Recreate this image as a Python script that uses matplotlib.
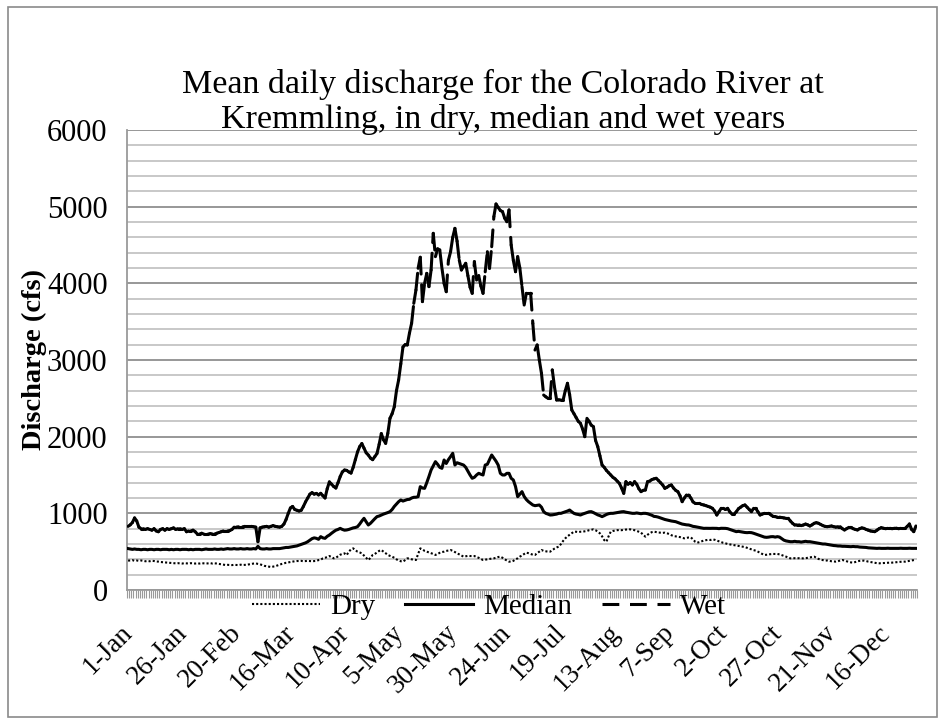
import numpy as np
import matplotlib
matplotlib.use("Agg")
import matplotlib.pyplot as plt
from matplotlib.collections import LineCollection
from matplotlib.lines import Line2D
from matplotlib.patches import Rectangle
from matplotlib.transforms import ScaledTranslation

plt.rcParams['font.family'] = ['Liberation Serif', 'DejaVu Serif']

title = "Mean daily discharge for the Colorado River at\nKremmling, in dry, median and wet years"
y_label = "Discharge (cfs)"
series_names = ["Dry", "Median", "Wet"]
tick_labels = ['1-Jan', '26-Jan', '20-Feb', '16-Mar', '10-Apr', '5-May', '30-May',
               '24-Jun', '19-Jul', '13-Aug', '7-Sep', '2-Oct', '27-Oct', '21-Nov', '16-Dec']

wet = [
    830, 850, 880, 940, 900, 820, 800, 800, 790, 800,
    790, 780, 800, 770, 760, 790, 800, 780, 800, 790,
    800, 810, 790, 800, 800, 790, 800, 760, 770, 770,
    780, 760, 730, 730, 740, 730, 730, 730, 735, 730,
    730, 740, 750, 760, 770, 770, 770, 775, 790, 820,
    820, 825, 825, 825, 830, 830, 830, 830, 825, 820,
    630, 810, 820, 825, 830, 820, 830, 840, 830, 825,
    820, 830, 860, 920, 1000, 1070, 1090, 1050, 1040, 1030,
    1040, 1090, 1150, 1200, 1250, 1270, 1250, 1260, 1240, 1261,
    1230, 1200, 1320, 1410, 1380, 1350, 1330, 1400, 1480, 1540,
    1565, 1560, 1540, 1525, 1600, 1700, 1800, 1870, 1910, 1850,
    1790, 1760, 1720, 1700, 1740, 1780, 1900, 2040, 1960, 1913,
    2043, 2240, 2300, 2390, 2600, 2740, 2950, 3170, 3200, 3196,
    3350, 3480, 3739, 3913, 4196, 4340, 3761, 4000, 4130, 3957,
    4174, 4652, 4348, 4450, 4435, 4200, 4000, 3891, 4300, 4413,
    4600, 4717, 4550, 4304, 4174, 4220, 4261, 4100, 3950, 3870,
    4283, 4043, 4100, 3965, 3870, 4150, 4413, 4196, 4478, 4870,
    5035, 4990, 4950, 4935, 4850, 4804, 4957, 4500, 4300, 4152,
    4348, 4200, 3957, 3717, 3870, 3870, 3870, 3478, 3130, 3196,
    3000, 2826, 2543, 2520, 2500, 2500, 2870, 2650, 2478, 2480,
    2478, 2478, 2600, 2696, 2550, 2348, 2300, 2250, 2200, 2174,
    2100, 2000, 2239, 2200, 2150, 2130, 1950, 1870, 1750, 1630,
    1600, 1560, 1530, 1500, 1470, 1450, 1420, 1391, 1330, 1261,
    1413, 1380, 1400, 1370, 1413, 1380, 1320, 1283, 1300, 1304,
    1413, 1420, 1440, 1450, 1457, 1430, 1400, 1370, 1326, 1340,
    1360, 1370, 1330, 1300, 1283, 1230, 1152, 1200, 1239, 1239,
    1200, 1150, 1130, 1130, 1130, 1115, 1109, 1100, 1090, 1080,
    1065, 1030, 978, 1020, 1065, 1065, 1050, 1065, 1020, 991,
    991, 1020, 1060, 1080, 1100, 1109, 1080, 1050, 1022, 1065,
    1065, 1020, 978, 990, 1000, 1000, 1000, 980, 960, 957,
    950, 950, 945, 940, 935, 935, 900, 870, 848, 850,
    850, 840, 848, 860, 850, 835, 850, 870, 878, 870,
    855, 840, 830, 826, 830, 835, 826, 820, 826, 826,
    800, 783, 800, 817, 817, 800, 790, 783, 800, 810,
    804, 790, 780, 770, 765, 761, 780, 800, 813, 805,
    800, 804, 804, 800, 804, 805, 800, 804, 804, 804,
    830, 861, 790, 761, 835,
]

median = [
    540, 535, 530, 535, 530, 530, 525, 530, 530, 525,
    530, 530, 525, 530, 530, 525, 530, 530, 530, 525,
    530, 525, 530, 530, 525, 530, 530, 530, 525, 530,
    525, 530, 530, 530, 525, 530, 535, 530, 530, 530,
    535, 530, 530, 535, 530, 535, 540, 535, 535, 540,
    535, 535, 540, 535, 535, 540, 535, 535, 540, 535,
    570, 540, 535, 535, 540, 535, 535, 540, 540, 540,
    540, 545, 550, 555, 555, 560, 565, 570, 575, 585,
    595, 605, 615, 630, 650, 670, 680, 674, 661, 696,
    680, 674, 700, 717, 740, 761, 780, 790, 804, 790,
    780, 783, 790, 800, 810, 815, 826, 860, 900, 935,
    890, 848, 870, 900, 930, 957, 965, 978, 990, 1000,
    1010, 1022, 1050, 1090, 1120, 1152, 1174, 1160, 1170, 1180,
    1183, 1200, 1209, 1210, 1217, 1348, 1330, 1326, 1400, 1480,
    1565, 1620, 1674, 1640, 1600, 1587, 1696, 1650, 1700, 1740,
    1783, 1630, 1660, 1650, 1640, 1630, 1600, 1550, 1500, 1457,
    1470, 1500, 1522, 1510, 1500, 1630, 1640, 1700, 1761, 1720,
    1680, 1630, 1522, 1500, 1500, 1522, 1522, 1457, 1435, 1350,
    1217, 1250, 1283, 1220, 1180, 1152, 1130, 1109, 1100, 1105,
    1109, 1080, 1022, 1000, 990, 978, 980, 985, 990, 1000,
    1000, 1010, 1020, 1030, 1043, 1020, 1000, 990, 985, 978,
    990, 1000, 1010, 1020, 1022, 1010, 995, 980, 970, 957,
    970, 985, 995, 1000, 1000, 1005, 1010, 1015, 1020, 1022,
    1015, 1010, 1005, 1000, 1000, 1005, 1000, 995, 1000, 1000,
    995, 985, 975, 960, 957, 950, 940, 930, 920, 913,
    905, 900, 895, 891, 880, 870, 860, 855, 850, 848,
    840, 830, 826, 820, 815, 810, 804, 805, 804, 804,
    805, 804, 804, 800, 805, 804, 804, 800, 790, 780,
    770, 761, 765, 760, 755, 750, 748, 750, 748, 740,
    730, 720, 710, 700, 690, 687, 690, 695, 696, 690,
    696, 690, 670, 650, 640, 635, 630, 630, 635, 630,
    630, 625, 630, 635, 630, 630, 625, 620, 615, 610,
    605, 600, 600, 595, 590, 585, 580, 578, 574, 574,
    570, 570, 568, 565, 565, 568, 565, 565, 560, 558,
    555, 555, 550, 548, 545, 543, 543, 545, 543, 543,
    543, 545, 543, 543, 543, 543, 543, 545, 543, 543,
    543, 545, 543, 543, 543,
]

dry = [
    383, 385, 390, 380, 385, 380, 385, 380, 375, 378,
    375, 380, 378, 372, 370, 365, 362, 360, 358, 355,
    352, 350, 348, 350, 348, 345, 350, 348, 345, 350,
    348, 345, 348, 345, 350, 348, 345, 348, 350, 345,
    348, 345, 340, 335, 330, 326, 328, 326, 325, 328,
    326, 325, 330, 326, 328, 330, 335, 340, 345, 348,
    340, 335, 325, 315, 310, 304, 300, 305, 310, 320,
    330, 340, 348, 355, 360, 365, 370, 375, 378, 378,
    380, 375, 378, 380, 378, 375, 378, 380, 390, 395,
    413, 420, 430, 443, 430, 413, 420, 440, 460, 470,
    478, 456, 500, 530, 543, 520, 500, 490, 478, 450,
    420, 391, 420, 457, 470, 490, 510, 522, 500, 480,
    457, 445, 435, 420, 400, 385, 375, 370, 390, 413,
    410, 400, 395, 391, 470, 543, 530, 510, 500, 490,
    480, 470, 457, 470, 485, 495, 500, 510, 515, 522,
    510, 495, 478, 465, 450, 435, 440, 445, 443, 443,
    443, 430, 420, 405, 391, 395, 400, 405, 410, 413,
    420, 430, 435, 420, 400, 385, 370, 370, 380, 400,
    413, 435, 450, 470, 487, 480, 470, 460, 457, 480,
    500, 522, 510, 505, 500, 500, 520, 540, 555, 565,
    600, 640, 674, 700, 720, 740, 761, 760, 755, 760,
    761, 765, 770, 780, 785, 791, 780, 760, 739, 700,
    650, 630, 700, 761, 770, 775, 780, 783, 780, 785,
    788, 791, 791, 785, 780, 770, 760, 748, 720, 696,
    720, 740, 755, 761, 755, 750, 748, 745, 748, 740,
    730, 715, 704, 700, 695, 690, 680, 674, 680, 685,
    687, 660, 630, 617, 625, 635, 645, 650, 655, 652,
    661, 655, 645, 635, 625, 615, 609, 600, 595, 590,
    585, 580, 575, 570, 565, 560, 550, 540, 530, 520,
    513, 500, 485, 470, 457, 460, 465, 468, 470, 470,
    470, 465, 455, 445, 435, 420, 413, 413, 415, 413,
    415, 413, 413, 415, 420, 425, 430, 435, 420, 405,
    395, 390, 383, 385, 380, 375, 372, 370, 375, 385,
    391, 385, 375, 365, 360, 357, 365, 375, 380, 383,
    383, 378, 370, 365, 360, 355, 350, 348, 350, 352,
    355, 357, 357, 357, 360, 362, 365, 368, 370, 370,
    375, 380, 385, 391, 395,
]

W, H = 946, 724
fig = plt.figure(figsize=(W / 100, H / 100), dpi=100)
ax = fig.add_axes([127 / W, 1 - 590 / H, 790 / W, 460 / H])

days = np.arange(len(wet))
wet_a = np.array(wet, dtype=float)
ax.set_xlim(-0.5, len(wet) - 0.5)
ax.set_ylim(0, 6000)

# gridlines
ax.set_yticks(np.arange(0, 6001, 1000))
ax.set_yticks(np.arange(0, 6001, 200), minor=True)
ax.grid(which='minor', axis='y', color='#c4c4c4', lw=1.3, zorder=0)
ax.grid(which='major', axis='y', color='#8f8f8f', lw=1.3, zorder=0)
ax.set_axisbelow(True)
ax.tick_params(axis='y', which='both', length=0, pad=14, labelsize=22)

for s in ['top', 'right']:
    ax.spines[s].set_visible(False)
ax.spines['left'].set_color('#9a9a9a')
ax.spines['left'].set_linewidth(1.3)
ax.spines['bottom'].set_color('#9a9a9a')
ax.spines['bottom'].set_linewidth(1.3)

# x axis: one tick per category, labels every 25 days
label_pos = np.arange(0, len(wet), 25)
ax.set_xticks(label_pos)
ax.set_xticklabels([])
ax.set_xticks(np.arange(-0.5, len(wet), 1), minor=True)
ax.tick_params(axis='x', which='major', length=0)
ax.tick_params(axis='x', which='minor', length=5.5, width=0.8, color='#9a9a9a')
lab_tr = ax.get_xaxis_transform() + ScaledTranslation(-8 / 100, -30 / 100, fig.dpi_scale_trans)
for d, lab in zip(label_pos, tick_labels):
    ax.text(d, 0, lab, transform=lab_tr, rotation=45, ha='right', va='top',
            rotation_mode='anchor', fontsize=19.5, clip_on=False)

# series
ax.plot(days, dry, color='black', lw=1.5, linestyle=(0, (1, 1)), zorder=3)
ax.plot(days, median, color='black', lw=2.2, solid_joinstyle='round', zorder=3)
pts = np.column_stack([days, wet_a])
segs = np.stack([pts[:-1], pts[1:]], axis=1)
lc = LineCollection(segs, colors='black', linewidths=2.2,
                    linestyles=[(0, (5.5, 3.5))], capstyle='round', zorder=3)
ax.add_collection(lc)

ax.set_ylabel(y_label, fontweight='bold', fontsize=20.5)
ax.yaxis.set_label_coords((47 - 127) / 790, 0.5)

fig.text(503 / W, 1 - 102 / H, title, ha='center', va='center',
         fontsize=24.5, linespacing=1.2)

handles = [Line2D([], [], color='black', lw=1.5, linestyle=(0, (1, 1))),
           Line2D([], [], color='black', lw=2.2),
           Line2D([], [], color='black', lw=2.2, linestyle=(0, (5.5, 3.5)))]
fig.legend(handles, series_names, loc='center', bbox_to_anchor=(489 / W, 1 - 607 / H),
           ncol=3, frameon=False, fontsize=21, handlelength=2.35,
           handletextpad=0.35, columnspacing=1.0)

fig.patches.append(Rectangle((8 / W, 7 / H), 929 / W, 710 / H, transform=fig.transFigure,
                             fill=False, edgecolor='#8a8a8a', lw=1.2))

fig.savefig('out.png', dpi=100)
